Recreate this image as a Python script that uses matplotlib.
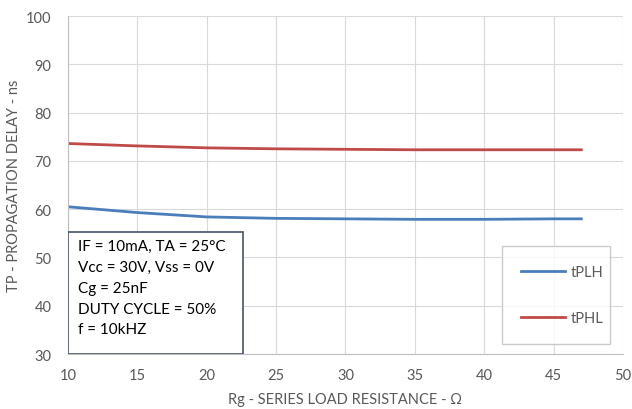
import matplotlib.pyplot as plt
from matplotlib.patches import Rectangle

plt.rcParams['font.family'] = ['Lato', 'DejaVu Sans']

rg = [10, 15, 20, 25, 30, 35, 40, 45, 47]
tplh = [60.5, 59.3, 58.4, 58.1, 58.0, 57.9, 57.9, 58.0, 58.0]
tphl = [73.6, 73.1, 72.7, 72.5, 72.4, 72.3, 72.3, 72.3, 72.3]

conditions = ["IF = 10mA, TA = 25\u00b0C",
              "Vcc = 30V, Vss = 0V",
              "Cg = 25nF",
              "DUTY CYCLE = 50%",
              "f = 10kHZ"]

grey = '#595959'
fig = plt.figure(figsize=(6.32, 4.10), dpi=100)
ax = fig.add_axes([0.1076, 0.134, 0.878, 0.8245])

ax.plot(rg, tplh, color='#4a7ebb', lw=2, label='tPLH')
ax.plot(rg, tphl, color='#be4b48', lw=2, label='tPHL')

ax.set_xlim(10, 50)
ax.set_ylim(30, 100)
ax.set_xticks(range(10, 51, 5))
ax.set_yticks(range(30, 101, 10))
ax.grid(True, color='#d9d9d9', lw=0.8)
ax.set_axisbelow(True)
ax.tick_params(axis='x', length=0, labelsize=10.5, colors=grey, pad=10)
ax.tick_params(axis='y', length=0, labelsize=10.5, colors=grey, pad=12)
for s in ['top', 'right']:
    ax.spines[s].set_visible(False)
for s in ['left', 'bottom']:
    ax.spines[s].set_color('#bfbfbf')

ax.set_xlabel('Rg - SERIES LOAD RESISTANCE - \u03a9', color=grey, fontsize=10.5,
              va='center')
ax.set_ylabel('TP - PROPAGATION DELAY - ns', color=grey, fontsize=10.5,
              va='center')
ax.xaxis.set_label_coords(0.5, -0.133)
ax.yaxis.set_label_coords(-0.097, 0.5)

# conditions box
ax.add_patch(Rectangle((0.0, 0.0), 0.315, 0.361, transform=ax.transAxes,
                       facecolor='white', edgecolor='#44546a', lw=1.2, zorder=5))
ax.text(0.018, 0.34, "\n".join(conditions), transform=ax.transAxes,
        va='top', ha='left', fontsize=11, color='black', linespacing=1.62, zorder=6)

leg = ax.legend(loc='lower left', bbox_to_anchor=(0.782, 0.03, 0.195, 0.251),
                mode='expand', fancybox=False, edgecolor='#bfbfbf',
                labelspacing=2.2, handlelength=3.0, handletextpad=0.4,
                fontsize=10.5, borderaxespad=0, borderpad=1.3)
for t in leg.get_texts():
    t.set_color(grey)
leg.get_frame().set_linewidth(1.0)

fig.savefig('out.png', dpi=100)
